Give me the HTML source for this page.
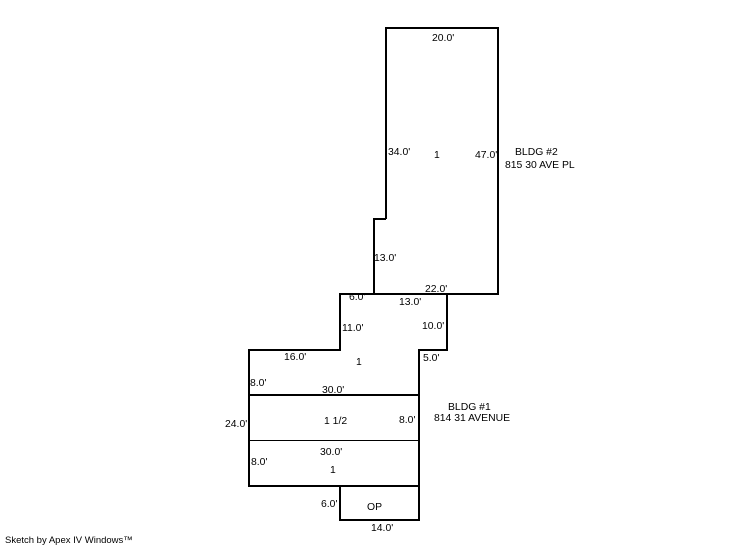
<!DOCTYPE html>
<html><head><style>
body{margin:0;background:#fff;}
svg text{font-family:"Liberation Sans",Arial,sans-serif;font-size:10.4px;fill:#000;}
</style></head><body>
<svg width="746" height="547" viewBox="0 0 746 547" xmlns="http://www.w3.org/2000/svg">
<g fill="none" stroke="#000" stroke-width="2">
<polyline points="386,219 386,28 498,28 498,294 374,294 374,219 386,219"/>
<polyline points="374,294 340,294 340,350 249,350 249,486 419,486 419,350 447,350 447,294"/>
<line x1="249" y1="395" x2="419" y2="395"/>
<polyline points="340,486 340,520 419,520 419,486"/>
</g>
<line x1="249" y1="440.5" x2="419" y2="440.5" stroke="#000" stroke-width="1"/>
<text x="432" y="41">20.0'</text>
<text x="388" y="155">34.0'</text>
<text x="434" y="158">1</text>
<text x="475" y="158">47.0'</text>
<text x="515" y="155">BLDG #2</text>
<text x="505" y="168">815 30 AVE PL</text>
<text x="374" y="261">13.0'</text>
<text x="425" y="292">22.0'</text>
<text x="349" y="300">6.0'</text>
<text x="399" y="305">13.0'</text>
<text x="342" y="331">11.0'</text>
<text x="422" y="329">10.0'</text>
<text x="284" y="360">16.0'</text>
<text x="356" y="365">1</text>
<text x="423" y="361">5.0'</text>
<text x="250" y="386">8.0'</text>
<text x="322" y="393">30.0'</text>
<text x="448" y="410">BLDG #1</text>
<text x="434" y="421">814 31 AVENUE</text>
<text x="225" y="427">24.0'</text>
<text x="324" y="424">1 1/2</text>
<text x="399" y="423">8.0'</text>
<text x="320" y="455">30.0'</text>
<text x="251" y="465">8.0'</text>
<text x="330" y="473">1</text>
<text x="321" y="507">6.0'</text>
<text x="367" y="510">OP</text>
<text x="371" y="531">14.0'</text>
<text x="5" y="543" style="font-size:9.5px">Sketch by Apex IV Windows™</text>
</svg>
</body></html>
